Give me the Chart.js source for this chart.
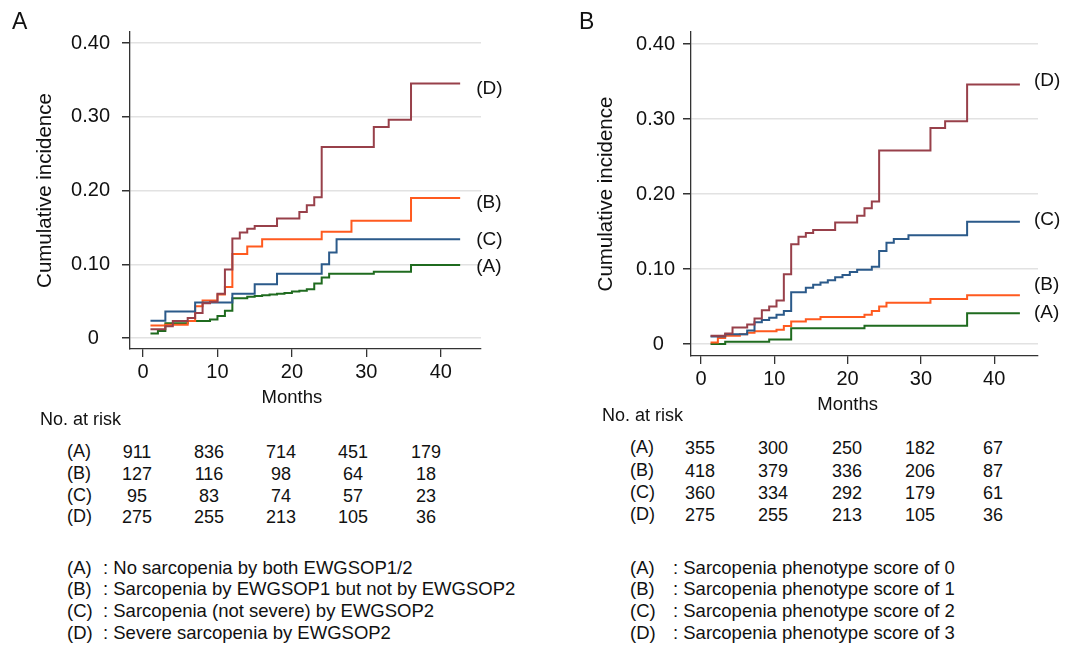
<!DOCTYPE html>
<html>
<head>
<meta charset="utf-8">
<script src="https://cdn.jsdelivr.net/npm/chart.js@4.4.1/dist/chart.umd.min.js"></script>
<style>
  body { margin: 0; background: #fff; width: 1073px; height: 648px; overflow: hidden; position: relative;
         font-family: "Liberation Sans", Arial, sans-serif; color: #111; }
  canvas { position: absolute; top: 0; }
  .t { position: absolute; white-space: pre; line-height: 1; font-size: 18px; }
  .num { text-align: center; width: 60px; }
  .panel { font-size: 23px; }
</style>
</head>
<body>
<canvas id="chartA" width="540" height="420" style="left:0px"></canvas>
<canvas id="chartB" width="533" height="420" style="left:540px"></canvas>
<div id="notes"></div>
<script>
// groups and colours, same order in both panels: (A) (B) (C) (D)
const groupLabels = ["(A)", "(B)", "(C)", "(D)"];
const lineColors = ["#1f6b1f", "#ff5a1f", "#2b5a8a", "#98404a"];
const xTicks = [0, 10, 20, 30, 40];
const yTicks = [0, 0.1, 0.2, 0.3, 0.4];

// panel A: months at each step and cumulative incidence after the step
const monthsA_A = [1, 2, 3, 6, 9, 10, 11, 12, 14, 15, 16, 17, 18, 19, 20, 21, 22, 23, 24, 25, 31, 36, 42.6];
const cumA_A    = [0.006, 0.0095, 0.020, 0.023, 0.025, 0.030, 0.037, 0.054, 0.056, 0.057, 0.058, 0.059, 0.060, 0.061, 0.063, 0.064, 0.066, 0.074, 0.082, 0.087, 0.090, 0.099, 0.099];
const monthsA_B = [1, 3, 6, 7, 8, 10, 11, 12, 14, 16, 24, 28, 36, 42.6];
const cumA_B    = [0.017, 0.018, 0.023, 0.043, 0.051, 0.059, 0.069, 0.114, 0.124, 0.134, 0.144, 0.159, 0.190, 0.190];
const monthsA_C = [1, 3, 7, 12, 15, 18, 24, 25, 26, 42.6];
const cumA_C    = [0.0235, 0.036, 0.048, 0.060, 0.073, 0.087, 0.100, 0.116, 0.134, 0.134];
const monthsA_D = [1, 3, 4, 6, 7, 8, 9, 10, 11, 12, 13, 14, 15, 18, 21, 22, 23, 24, 31, 33, 36, 42.6];
const cumA_D    = [0.012, 0.016, 0.023, 0.027, 0.034, 0.047, 0.049, 0.060, 0.093, 0.135, 0.143, 0.148, 0.152, 0.162, 0.171, 0.180, 0.191, 0.259, 0.286, 0.296, 0.345, 0.345];

// panel B
const monthsB_A = [1.3, 3.3, 9.3, 12.3, 22.3, 36.3, 43.5];
const cumB_A    = [0.000, 0.003, 0.006, 0.021, 0.0245, 0.041, 0.041];
const monthsB_B = [1.3, 2.3, 3.3, 5.3, 6.3, 7.3, 10.3, 11.3, 12.3, 14.3, 16.3, 22.3, 23.3, 24.3, 25.3, 31.3, 36.3, 43.5];
const cumB_B    = [0.002, 0.008, 0.011, 0.013, 0.015, 0.017, 0.019, 0.024, 0.030, 0.033, 0.036, 0.039, 0.044, 0.050, 0.055, 0.060, 0.065, 0.065];
const monthsB_C = [1.3, 3.3, 6.3, 7.3, 8.3, 9.3, 10.3, 11.3, 12.3, 14.3, 15.3, 16.3, 17.3, 18.3, 19.3, 20.3, 21.3, 23.3, 24.3, 25.3, 26.3, 28.3, 36.3, 43.5];
const cumB_C    = [0.010, 0.013, 0.018, 0.029, 0.032, 0.035, 0.039, 0.044, 0.069, 0.075, 0.079, 0.082, 0.085, 0.089, 0.092, 0.096, 0.099, 0.103, 0.124, 0.135, 0.140, 0.145, 0.163, 0.163];
const monthsB_D = [1.3, 3.3, 4.3, 6.3, 7.3, 8.3, 9.3, 10.3, 11.3, 12.3, 13.3, 14.3, 15.3, 18.3, 21.3, 22.3, 23.3, 24.3, 31.3, 33.3, 36.3, 43.5];
const cumB_D    = [0.011, 0.014, 0.022, 0.026, 0.034, 0.045, 0.050, 0.058, 0.093, 0.133, 0.143, 0.148, 0.152, 0.162, 0.171, 0.181, 0.190, 0.258, 0.288, 0.297, 0.346, 0.346];

// number at risk at 0, 10, 20, 30, 40 months
const riskA = [[911, 836, 714, 451, 179], [127, 116, 98, 64, 18], [95, 83, 74, 57, 23], [275, 255, 213, 105, 36]];
const riskB = [[355, 300, 250, 182, 67], [418, 379, 336, 206, 87], [360, 334, 292, 179, 61], [275, 255, 213, 105, 36]];

const legendA = ["No sarcopenia by both EWGSOP1/2", "Sarcopenia by EWGSOP1 but not by EWGSOP2",
                 "Sarcopenia (not severe) by EWGSOP2", "Severe sarcopenia by EWGSOP2"];
const legendB = ["Sarcopenia phenotype score of 0", "Sarcopenia phenotype score of 1",
                 "Sarcopenia phenotype score of 2", "Sarcopenia phenotype score of 3"];

const FONT = '"Liberation Sans", Arial, sans-serif';

// curve end labels + axis titles
const kmText = {
  id: "kmText",
  afterDraw(chart, args, opts) {
    const { ctx, chartArea, scales } = chart;
    ctx.save();
    ctx.fillStyle = "#111";
    ctx.textBaseline = "middle";
    ctx.textAlign = "left";
    ctx.font = "19px " + FONT;
    chart.data.datasets.forEach((ds, i) => {
      const pts = chart.getDatasetMeta(i).data;
      const last = pts[pts.length - 1];
      ctx.fillText(ds.label, last.x + opts.gap, last.y + opts.nudge[i]);
    });
    ctx.textAlign = "center";
    ctx.font = "18.5px " + FONT;
    ctx.fillText("Months", scales.x.getPixelForValue(20), chartArea.bottom + 49);
    ctx.translate(chartArea.left - 85, (chartArea.top + chartArea.bottom) / 2);
    ctx.rotate(-Math.PI / 2);
    ctx.font = "20.5px " + FONT;
    ctx.fillText("Cumulative incidence", 0, 0);
    ctx.restore();
  }
};

function makeChart(id, series, cfg) {
  const axisColor = "#333";
  return new Chart(document.getElementById(id), {
    type: "line",
    data: {
      datasets: series.map((s, i) => ({
        label: groupLabels[i],
        data: s[0].map((m, j) => ({ x: m, y: s[1][j] })),
        borderColor: lineColors[i],
        borderWidth: 2,
        stepped: true,
        pointRadius: 0,
        fill: false,
        order: 3 - i
      }))
    },
    options: {
      responsive: false,
      animation: false,
      devicePixelRatio: 1,
      layout: { padding: { left: 0, top: cfg.top, right: cfg.w - cfg.right, bottom: 0 } },
      plugins: {
        legend: { display: false },
        tooltip: { enabled: false },
        kmText: { gap: cfg.gap, nudge: cfg.nudge }
      },
      scales: {
        x: {
          type: "linear",
          min: cfg.xMin, max: cfg.xMax,
          afterBuildTicks: s => { s.ticks = xTicks.map(v => ({ value: v })); },
          afterFit: s => { s.height = cfg.h - cfg.bottom; },
          grid: { drawOnChartArea: false, tickLength: 8, tickColor: axisColor, lineWidth: 1.3 },
          border: { color: axisColor, width: 1.3 },
          ticks: { font: { size: 20, family: FONT }, color: "#111", padding: 3, maxRotation: 0 }
        },
        y: {
          min: cfg.yMin, max: cfg.yMax,
          afterBuildTicks: s => { s.ticks = yTicks.map(v => ({ value: v })); },
          afterFit: s => { s.width = cfg.left; },
          grid: { color: "#e2e2e2", lineWidth: 1.5, tickLength: 8, tickColor: axisColor },
          border: { color: axisColor, width: 1.3 },
          ticks: { font: { size: 20, family: FONT }, color: "#111", padding: cfg.yPad,
                   callback: v => v === 0 ? "0  " : v.toFixed(2) }
        }
      }
    },
    plugins: [kmText]
  });
}

makeChart("chartA",
  [[monthsA_A, cumA_A], [monthsA_B, cumA_B], [monthsA_C, cumA_C], [monthsA_D, cumA_D]],
  { w: 540, h: 420, left: 130, right: 481, top: 32, bottom: 349,
    xMin: -1.75, xMax: 45.4, yMin: -0.0149, yMax: 0.4149, yPad: 12, gap: 16, nudge: [2, 5, 1, 5] });

makeChart("chartB",
  [[monthsB_A, cumB_A], [monthsB_B, cumB_B], [monthsB_C, cumB_C], [monthsB_D, cumB_D]],
  { w: 533, h: 420, left: 151, right: 498, top: 32, bottom: 356,
    xMin: -1.364, xMax: 45.97, yMin: -0.016, yMax: 0.416, yPad: 8, gap: 14, nudge: [0, -10, -2, -4] });

// panel letters, number-at-risk tables and group legends as page text
const notes = document.getElementById("notes");
function put(text, left, cy, cls, size) {
  const d = document.createElement("div");
  d.className = "t " + (cls || "");
  d.textContent = text;
  const fs = size || 18;
  d.style.left = left + "px";
  d.style.top = (cy - fs / 2) + "px";
  if (size) d.style.fontSize = size + "px";
  notes.appendChild(d);
}
function block(letter, letterX, risk, cols, riskX, riskY, rows, legend, legX, colonX, legY) {
  put(letter, letterX, 21, "panel", 23);
  put("No. at risk", riskX, riskY, "");
  rows.forEach((cy, r) => {
    put(groupLabels[r], legX, cy - 1, "");
    risk[r].forEach((n, c) => put(String(n), cols[c] - 30, cy, "num"));
  });
  legend.forEach((txt, r) => {
    const cy = legY + r * 21.7;
    put(groupLabels[r], legX, cy, "", 18.5);
    put(": " + txt, colonX, cy, "", 18.5);
  });
}
block("A", 12, riskA, [137, 209, 281, 353, 426], 40, 419, [452, 474, 495.5, 517], legendA, 67, 103, 568);
block("B", 579, riskB, [700, 773, 847, 920, 993], 602, 415, [448, 470.5, 492.5, 515], legendB, 630, 673, 568);
</script>
</body>
</html>
